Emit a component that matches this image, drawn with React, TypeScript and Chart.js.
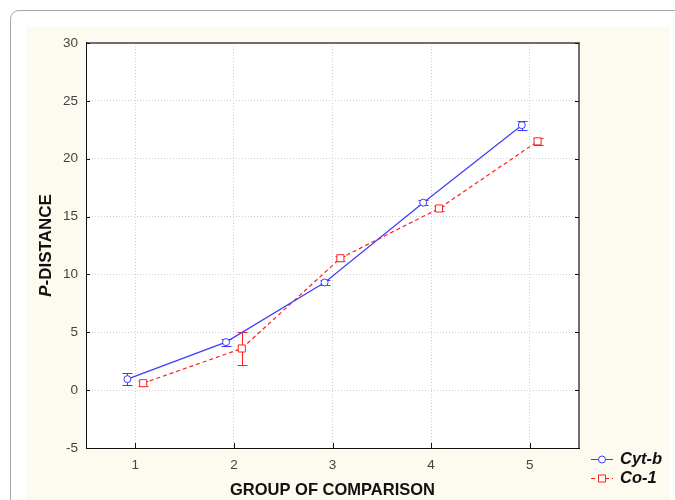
import React, { useEffect, useRef } from "react";
import { Chart, registerables } from "chart.js";

Chart.register(...registerables);

const groups = [1, 2, 3, 4, 5];
const cytbMeans = [0.95, 4.15, 9.3, 16.2, 22.9];
const cytbErr = [0.5, 0.3, 0.2, 0.2, 0.4];
const co1Means = [0.6, 3.6, 11.4, 15.7, 21.5];
const co1Err = [0.2, 1.4, 0.2, 0.2, 0.3];
const seriesNames = ["Cyt-b", "Co-1"];
const xTitle = "GROUP OF COMPARISON";
const yTitleItalic = "P";
const yTitleRest = "-DISTANCE";
const groupOffset = 0.08;

const BLUE = "rgb(60,60,255)";
const RED = "rgb(255,30,30)";
const FONT = "'Liberation Sans', Arial, sans-serif";

const errors = [cytbErr, co1Err];

const overlayPlugin = {
  id: "overlay",
  beforeDatasetsDraw(chart: any) {
    const ctx = chart.ctx;
    const xs = chart.scales.x;
    const ys = chart.scales.y;
    chart.data.datasets.forEach((ds: any, di: number) => {
      ctx.save();
      ctx.strokeStyle = ds.borderColor;
      ctx.lineWidth = 1;
      ctx.setLineDash([]);
      ds.data.forEach((p: any, i: number) => {
        const e = errors[di][i];
        const px = Math.round(xs.getPixelForValue(p.x)) + 0.5;
        const top = Math.round(ys.getPixelForValue(p.y + e)) + 0.5;
        const bot = Math.round(ys.getPixelForValue(p.y - e)) + 0.5;
        ctx.beginPath();
        ctx.moveTo(px, top);
        ctx.lineTo(px, bot);
        ctx.moveTo(px - 5, top);
        ctx.lineTo(px + 5, top);
        ctx.moveTo(px - 5, bot);
        ctx.lineTo(px + 5, bot);
        ctx.stroke();
      });
      ctx.restore();
    });
  },
  afterDraw(chart: any) {
    const ctx = chart.ctx;
    const a = chart.chartArea;
    const xs = chart.scales.x;
    const ys = chart.scales.y;
    ctx.save();
    ctx.setLineDash([]);
    ctx.strokeStyle = "#6e6e6e";
    ctx.lineWidth = 2;
    ctx.beginPath();
    ctx.moveTo(a.left, a.top);
    ctx.lineTo(a.right, a.top);
    ctx.lineTo(a.right, a.bottom);
    ctx.stroke();
    ctx.strokeStyle = "#111";
    ctx.lineWidth = 1;
    ctx.beginPath();
    ctx.moveTo(Math.round(a.left) + 0.5, a.top - 1);
    ctx.lineTo(Math.round(a.left) + 0.5, Math.round(a.bottom) + 0.5);
    ctx.lineTo(a.right + 1, Math.round(a.bottom) + 0.5);
    ctx.stroke();
    ctx.beginPath();
    xs.ticks.forEach((t: any) => {
      const px = Math.round(xs.getPixelForValue(t.value)) + 0.5;
      ctx.moveTo(px, a.bottom);
      ctx.lineTo(px, a.bottom - 5);
    });
    ys.ticks.forEach((t: any) => {
      const py = Math.round(ys.getPixelForValue(t.value)) + 0.5;
      ctx.moveTo(a.left, py);
      ctx.lineTo(a.left + 4, py);
      ctx.moveTo(a.right, py);
      ctx.lineTo(a.right - 4, py);
    });
    ctx.stroke();
    ctx.fillStyle = "#111";
    ctx.font = `bold 16.5px ${FONT}`;
    ctx.textAlign = "center";
    ctx.textBaseline = "middle";
    ctx.fillText(xTitle, (a.left + a.right) / 2, 490);
    ctx.save();
    ctx.translate(46, (a.top + a.bottom) / 2);
    ctx.rotate(-Math.PI / 2);
    ctx.font = `italic bold 17px ${FONT}`;
    const w1 = ctx.measureText(yTitleItalic).width;
    ctx.font = `bold 17px ${FONT}`;
    const w2 = ctx.measureText(yTitleRest).width;
    const start = -(w1 + w2) / 2;
    ctx.textAlign = "left";
    ctx.font = `italic bold 17px ${FONT}`;
    ctx.fillText(yTitleItalic, start, 0);
    ctx.font = `bold 17px ${FONT}`;
    ctx.fillText(yTitleRest, start + w1, 0);
    ctx.restore();
    const rows = [459, 478];
    chart.data.datasets.forEach((ds: any, di: number) => {
      const y = rows[di] + 0.5;
      ctx.strokeStyle = ds.borderColor;
      ctx.lineWidth = 1;
      ctx.setLineDash(ds.borderDash || []);
      ctx.beginPath();
      ctx.moveTo(591, y);
      ctx.lineTo(613, y);
      ctx.stroke();
      ctx.setLineDash([]);
      ctx.fillStyle = "#fff";
      ctx.beginPath();
      if (ds.pointStyle === "rect") {
        ctx.rect(598.5, y - 3.5, 7, 7);
      } else {
        ctx.arc(602, y, 3.5, 0, Math.PI * 2);
      }
      ctx.fill();
      ctx.stroke();
      ctx.fillStyle = "#111";
      ctx.font = `italic bold 16.5px ${FONT}`;
      ctx.textAlign = "left";
      ctx.textBaseline = "middle";
      ctx.fillText(ds.label, 620, y);
    });
    ctx.restore();
  },
};

export default function App() {
  const ref = useRef<HTMLCanvasElement | null>(null);
  useEffect(() => {
    if (!ref.current) return;
    const chart = new Chart(ref.current, {
      type: "scatter",
      data: {
        datasets: [
          {
            label: seriesNames[0],
            data: groups.map((g, i) => ({ x: g - groupOffset, y: cytbMeans[i] })),
            showLine: true,
            borderColor: BLUE,
            backgroundColor: "#fff",
            borderWidth: 1.2,
            pointStyle: "circle",
            pointRadius: 3.5,
            pointBorderWidth: 1,
          },
          {
            label: seriesNames[1],
            data: groups.map((g, i) => ({ x: g + groupOffset, y: co1Means[i] })),
            showLine: true,
            borderColor: RED,
            backgroundColor: "#fff",
            borderWidth: 1.2,
            borderDash: [4, 3],
            pointStyle: "rect",
            pointRadius: 5,
            pointBorderWidth: 1,
          },
        ],
      },
      options: {
        animation: false,
        responsive: false,
        layout: { padding: { top: 43, right: 96, left: 0, bottom: 0 } },
        plugins: { legend: { display: false }, tooltip: { enabled: false } },
        scales: {
          x: {
            type: "linear",
            min: 0.5,
            max: 5.5,
            afterBuildTicks: (s: any) => {
              s.ticks = groups.map((g) => ({ value: g }));
            },
            afterFit: (s: any) => {
              s.height = 52;
            },
            ticks: {
              stepSize: 1,
              color: "#444",
              padding: 9,
              font: { family: FONT, size: 13.5 },
            },
            grid: { color: "#cfcfcf", drawTicks: false, lineWidth: 1 },
            border: { display: false, dash: [1, 2] },
          },
          y: {
            min: -5,
            max: 30,
            afterFit: (s: any) => {
              s.width = 86;
            },
            ticks: {
              stepSize: 5,
              color: "#444",
              padding: 8,
              font: { family: FONT, size: 13.5 },
            },
            grid: { color: "#cfcfcf", drawTicks: false, lineWidth: 1 },
            border: { display: false, dash: [1, 2] },
          },
        },
      },
      plugins: [overlayPlugin],
    } as any);
    return () => chart.destroy();
  }, []);
  return (
    <div style={{ position: "fixed", left: 0, top: 0, width: 675, height: 500, background: "#fff", overflow: "hidden" }}>
      <div
        style={{
          position: "absolute",
          left: 10,
          top: 10,
          width: 720,
          height: 540,
          border: "1px solid #a8a8a8",
          borderRadius: 9,
          background: "#fff",
        }}
      />
      <div style={{ position: "absolute", left: 26, top: 27, width: 644, height: 480, background: "rgb(253,250,240)" }} />
      <div style={{ position: "absolute", left: 86, top: 43, width: 493, height: 405, background: "#fff" }} />
      <canvas ref={ref} width={675} height={500} style={{ position: "absolute", left: 0, top: 0, width: 675, height: 500 }} />
    </div>
  );
}
